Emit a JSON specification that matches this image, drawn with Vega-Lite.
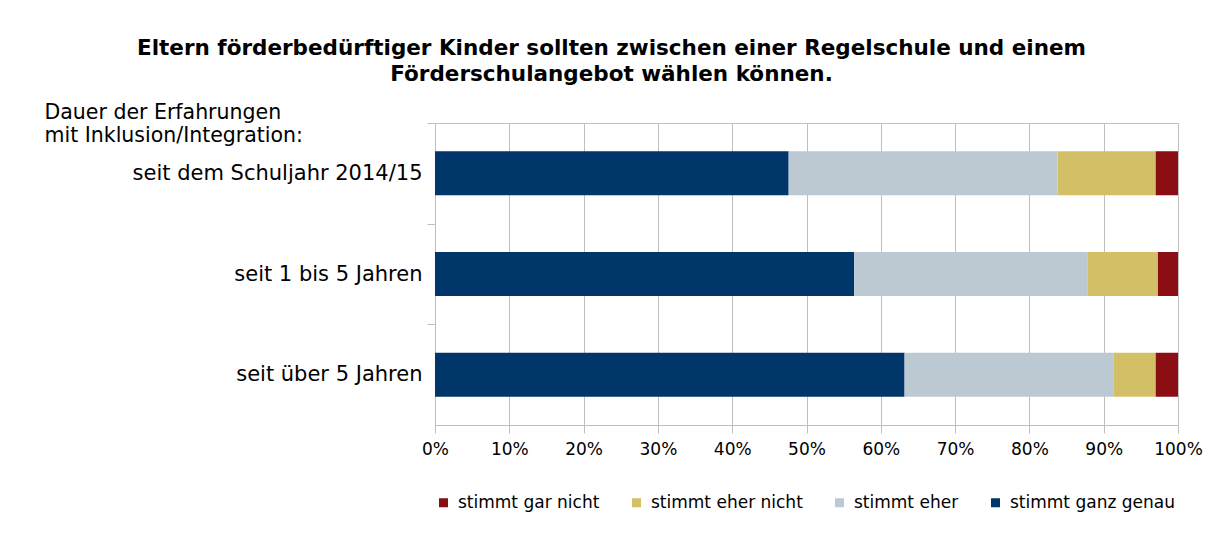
{
  "$schema": "https://vega.github.io/schema/vega-lite/v6.json",
  "width": 743,
  "height": 302,
  "autosize": {"type": "none"},
  "padding": {"left": 435, "top": 123, "right": 40, "bottom": 124},
  "background": "white",
  "title": {
    "text": ["Eltern förderbedürftiger Kinder sollten zwischen einer Regelschule und einem", "Förderschulangebot wählen können."],
    "font": "DejaVu Sans",
    "fontSize": 21.5,
    "fontWeight": "bold",
    "color": "#000000",
    "anchor": "middle",
    "frame": "group",
    "dx": -195,
    "offset": 17,
    "lineHeight": 26
  },
  "data": {
    "values": [
      {"dauer": "seit dem Schuljahr 2014/15", "antwort": "stimmt ganz genau", "rang": 1, "anteil": 47.6},
      {"dauer": "seit dem Schuljahr 2014/15", "antwort": "stimmt eher", "rang": 2, "anteil": 36.2},
      {"dauer": "seit dem Schuljahr 2014/15", "antwort": "stimmt eher nicht", "rang": 3, "anteil": 13.2},
      {"dauer": "seit dem Schuljahr 2014/15", "antwort": "stimmt gar nicht", "rang": 4, "anteil": 3.0},
      {"dauer": "seit 1 bis 5 Jahren", "antwort": "stimmt ganz genau", "rang": 1, "anteil": 56.4},
      {"dauer": "seit 1 bis 5 Jahren", "antwort": "stimmt eher", "rang": 2, "anteil": 31.4},
      {"dauer": "seit 1 bis 5 Jahren", "antwort": "stimmt eher nicht", "rang": 3, "anteil": 9.5},
      {"dauer": "seit 1 bis 5 Jahren", "antwort": "stimmt gar nicht", "rang": 4, "anteil": 2.7},
      {"dauer": "seit über 5 Jahren", "antwort": "stimmt ganz genau", "rang": 1, "anteil": 63.2},
      {"dauer": "seit über 5 Jahren", "antwort": "stimmt eher", "rang": 2, "anteil": 28.1},
      {"dauer": "seit über 5 Jahren", "antwort": "stimmt eher nicht", "rang": 3, "anteil": 5.7},
      {"dauer": "seit über 5 Jahren", "antwort": "stimmt gar nicht", "rang": 4, "anteil": 3.0}
    ]
  },
  "mark": {"type": "bar", "stroke": null},
  "encoding": {
    "y": {
      "field": "dauer",
      "type": "nominal",
      "sort": null,
      "scale": {"paddingInner": 0.563, "paddingOuter": 0.2815},
      "axis": {
        "title": ["Dauer der Erfahrungen", "mit Inklusion/Integration:"],
        "titleAngle": 0,
        "titleAlign": "left",
        "titleBaseline": "alphabetic",
        "titleX": -391,
        "titleY": -5,
        "titleLineHeight": 23,
        "titleFont": "DejaVu Sans",
        "titleFontSize": 20.5,
        "titleFontWeight": "normal",
        "titleColor": "#000000",
        "labelFont": "DejaVu Sans",
        "labelFontSize": 21,
        "labelColor": "#000000",
        "labelPadding": 5,
        "labelLimit": 400,
        "bandPosition": 0,
        "tickOffset": -28.3,
        "labelOffset": 28.3,
        "tickSize": 8,
        "tickColor": "#bfbfbf",
        "domainColor": "#bfbfbf",
        "grid": false
      }
    },
    "x": {
      "field": "anteil",
      "type": "quantitative",
      "stack": "normalize",
      "scale": {"domain": [0, 1], "nice": false},
      "axis": {
        "title": null,
        "format": ".0%",
        "values": [0, 0.1, 0.2, 0.3, 0.4, 0.5, 0.6, 0.7, 0.8, 0.9, 1],
        "labelFont": "DejaVu Sans",
        "labelFontSize": 17,
        "labelColor": "#000000",
        "labelPadding": 8,
        "tickSize": 8,
        "tickColor": "#bfbfbf",
        "domainColor": "#bfbfbf",
        "grid": true,
        "gridColor": "#bfbfbf",
        "labelFlush": false
      }
    },
    "color": {
      "field": "antwort",
      "type": "nominal",
      "scale": {
        "domain": ["stimmt gar nicht", "stimmt eher nicht", "stimmt eher", "stimmt ganz genau"],
        "range": ["#8a0e13", "#d3bf66", "#bdc9d2", "#00366a"]
      },
      "legend": {
        "title": null,
        "orient": "bottom",
        "direction": "horizontal",
        "symbolType": "square",
        "symbolSize": 81,
        "symbolStrokeWidth": 0,
        "labelFont": "DejaVu Sans",
        "labelFontSize": 17,
        "labelColor": "#000000",
        "labelLimit": 300,
        "columnPadding": 28,
        "labelOffset": 6,
        "offset": 37
      }
    },
    "order": {"field": "rang", "type": "quantitative"}
  },
  "config": {
    "view": {"stroke": "#bfbfbf"}
  }
}
